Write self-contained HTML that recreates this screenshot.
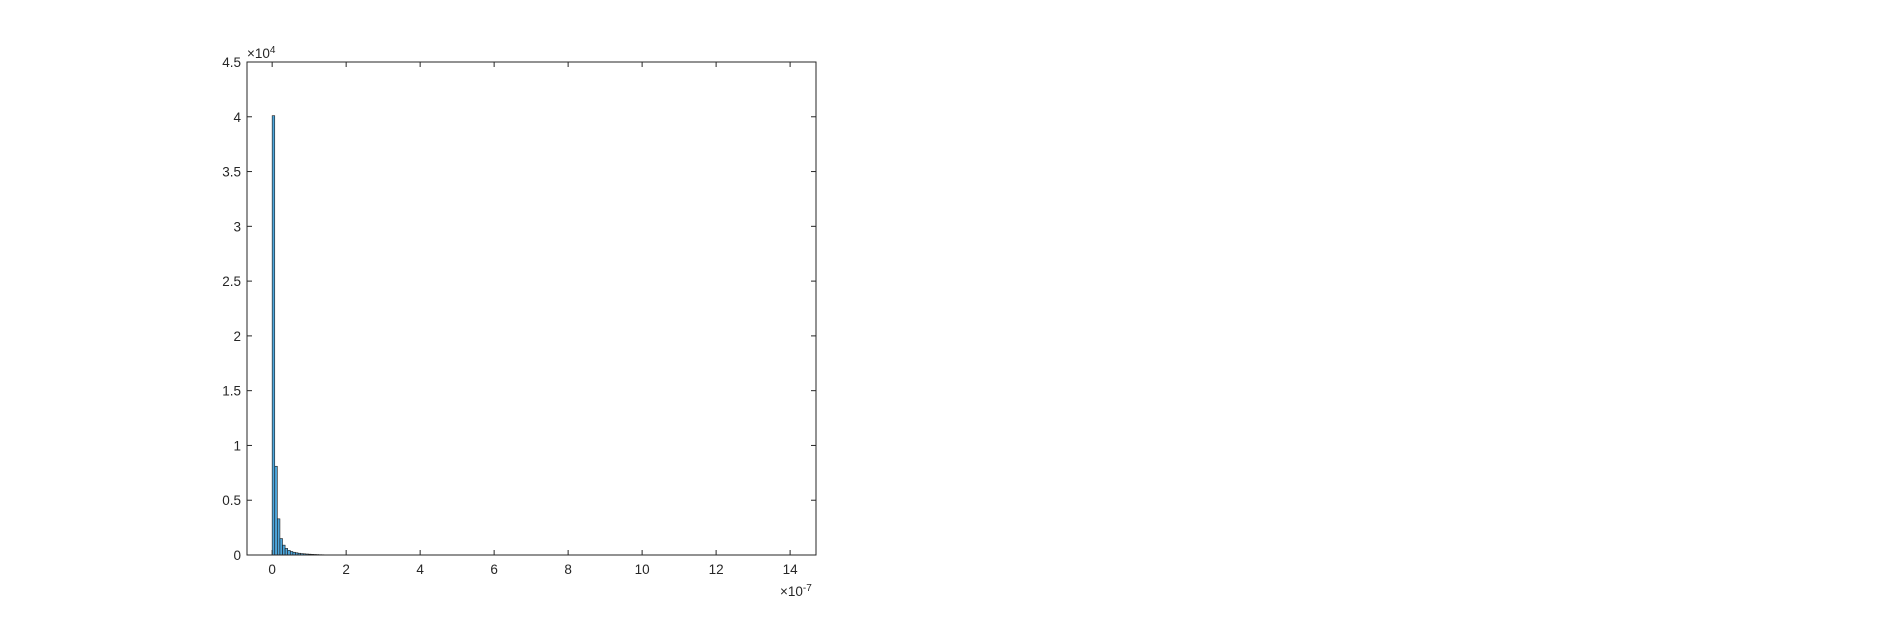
<!DOCTYPE html>
<html><head><meta charset="utf-8"><style>
body{margin:0;background:#fff;width:1899px;height:616px;overflow:hidden}
text{font-family:"Liberation Sans",sans-serif;font-size:13.5px;fill:#262626}
</style></head><body>
<svg width="1899" height="616">
<g id="bars"></g>
<rect x="247" y="62" width="569" height="493" fill="none" stroke="#262626" stroke-width="1"/>
<g id="ticks"></g>
<text x="247" y="58">×10<tspan dy="-5" font-size="10">4</tspan></text>
<text x="780" y="596">×10<tspan dy="-5" font-size="10">-7</tspan></text>
</svg>
<script>
const binWidth = 0.07;
const counts = [40100, 8100, 3300, 1500, 900, 600, 420, 320, 250, 200, 160, 130, 110, 90, 75, 60, 50, 40, 30, 25];
const xTicks = [0, 2, 4, 6, 8, 10, 12, 14];
const yTicks = [0, 0.5, 1, 1.5, 2, 2.5, 3, 3.5, 4, 4.5];
const X0 = 247, X1 = 816, Y0 = 555, Y1 = 62, xmin = -0.68, xmax = 14.7, ymax = 45000;
const ns = "http://www.w3.org/2000/svg";
const sx = v => X0 + (v - xmin) / (xmax - xmin) * (X1 - X0);
const sy = v => Y0 - v / ymax * (Y0 - Y1);
const bars = document.getElementById('bars');
counts.forEach((c, i) => {
  const r = document.createElementNS(ns, 'rect');
  r.setAttribute('x', sx(i * binWidth));
  r.setAttribute('width', sx((i + 1) * binWidth) - sx(i * binWidth));
  r.setAttribute('y', sy(c));
  r.setAttribute('height', Y0 - sy(c));
  r.setAttribute('fill', '#4DA6DB');
  r.setAttribute('stroke', '#1a1a1a');
  r.setAttribute('stroke-width', '0.6');
  
  
  bars.appendChild(r);
});
const tg = document.getElementById('ticks');
function line(x1, y1, x2, y2) {
  const l = document.createElementNS(ns, 'line');
  l.setAttribute('x1', x1); l.setAttribute('y1', y1); l.setAttribute('x2', x2); l.setAttribute('y2', y2);
  l.setAttribute('stroke', '#262626');
  
  
  tg.appendChild(l);
}
function label(x, y, s, anchor) {
  const t = document.createElementNS(ns, 'text');
  t.setAttribute('x', x); t.setAttribute('y', y); t.setAttribute('text-anchor', anchor);
  t.textContent = s;
  
  
  tg.appendChild(t);
}
xTicks.forEach(v => {
  const x = sx(v);
  line(x, Y0, x, Y0 - 5); line(x, Y1, x, Y1 + 5);
  label(x, Y0 + 19, String(v), 'middle');
});
yTicks.forEach(v => {
  const y = sy(v * 10000);
  line(X0, y, X0 + 5, y); line(X1, y, X1 - 5, y);
  label(X0 - 6, y + 5, String(v), 'end');
});
</script>
</body></html>
